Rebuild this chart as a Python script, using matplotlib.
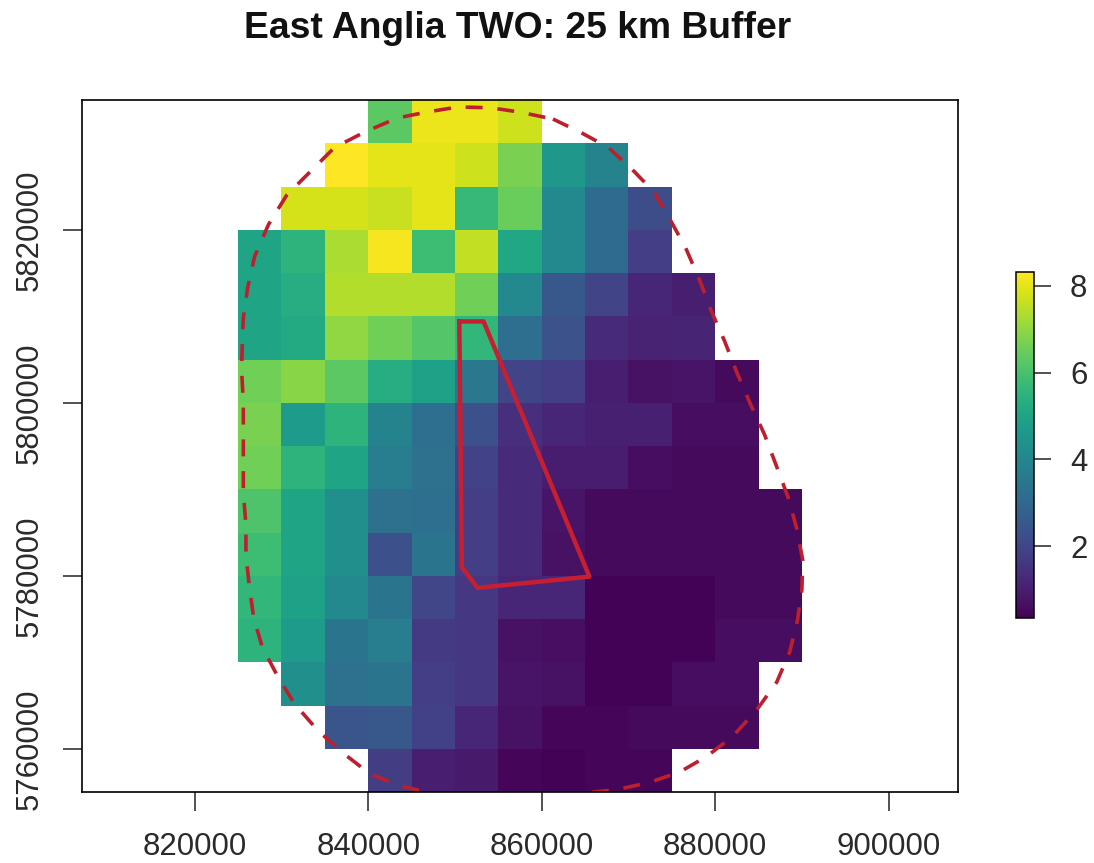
import numpy as np
import matplotlib
matplotlib.use("Agg")
import matplotlib.pyplot as plt

plt.rcParams['font.family'] = ['Liberation Sans', 'DejaVu Sans']

n = np.nan

# raster cell edges (m)
x_edges = np.arange(825000, 895000, 5000)
y_edges = np.arange(5755000, 5840000, 5000)

# values per row, top row first, columns 825000-890000
row_5830 = [n, n, n, 6.3, 8.1, 8.1, 7.7, n, n, n, n, n, n]
row_5825 = [n, n, 8.3, 8.0, 8.0, 7.7, 6.7, 4.6, 3.9, n, n, n, n]
row_5820 = [n, 7.8, 7.8, 7.65, 8.0, 5.7, 6.5, 4.1, 3.1, 2.2, n, n, n]
row_5815 = [5.0, 5.5, 7.3, 8.2, 5.8, 7.6, 5.1, 4.1, 3.1, 1.8, n, n, n]
row_5810 = [5.0, 5.3, 7.4, 7.4, 7.4, 6.6, 4.1, 2.5, 1.95, 1.2, 1.0, n, n]
row_5805 = [5.0, 5.2, 7.0, 6.6, 6.2, 5.6, 3.2, 2.35, 1.3, 1.1, 1.15, n, n]
row_5800 = [6.6, 6.9, 6.3, 5.3, 4.9, 3.5, 1.95, 1.8, 1.0, 0.7, 0.75, 0.55, n]
row_5795 = [6.7, 4.7, 5.5, 3.9, 3.2, 2.3, 1.4, 1.2, 1.05, 1.05, 0.6, 0.6, n]
row_5790 = [6.6, 5.5, 5.0, 3.7, 3.3, 1.9, 1.3, 0.95, 0.95, 0.6, 0.55, 0.55, n]
row_5785 = [6.1, 5.0, 4.3, 3.3, 3.2, 1.8, 1.3, 0.75, 0.55, 0.55, 0.55, 0.55, 0.55]
row_5780 = [5.8, 5.0, 4.3, 2.3, 3.4, 1.8, 1.3, 0.7, 0.55, 0.55, 0.55, 0.55, 0.55]
row_5775 = [5.6, 4.9, 4.1, 3.4, 2.0, 1.6, 1.2, 1.2, 0.4, 0.4, 0.4, 0.55, 0.55]
row_5770 = [5.5, 4.7, 3.4, 3.7, 1.7, 1.6, 0.7, 0.65, 0.4, 0.4, 0.4, 0.6, 0.6]
row_5765 = [n, 4.3, 3.3, 3.4, 1.8, 1.6, 0.75, 0.7, 0.4, 0.4, 0.6, 0.6, n]
row_5760 = [n, n, 2.4, 2.5, 1.85, 1.2, 0.7, 0.45, 0.45, 0.55, 0.55, 0.55, n]
row_5755 = [n, n, n, 1.75, 1.0, 0.9, 0.45, 0.4, 0.45, 0.45, n, n, n]

rows = [row_5830, row_5825, row_5820, row_5815, row_5810, row_5805, row_5800, row_5795,
        row_5790, row_5785, row_5780, row_5775, row_5770, row_5765, row_5760, row_5755]

# 25 km buffer outline (km)
buffer_x = [861.3, 864.6, 867.7, 870.7, 873.0, 874.9, 876.6, 878.2, 879.6, 881.1, 882.5, 884.0, 885.7,
            887.1, 888.4, 889.4, 890.1, 890.0, 889.5, 888.6, 887.1, 884.8, 882.0, 879.0, 875.9, 872.4,
            868.8, 865.2, 859.8, 854.0, 848.2, 843.6, 840.2, 837.1, 834.2, 831.5, 829.6, 827.8, 826.8,
            826.3, 825.9, 825.9, 825.6, 825.6, 825.6, 825.6, 825.4, 825.5, 825.6, 826.1, 826.9, 828.5,
            830.6, 833.5, 836.1, 839.6, 843.3, 846.7, 850.4, 854.1, 857.5, 861.3]
buffer_y = [5832.8, 5831.2, 5829.5, 5826.7, 5824.3, 5821.0, 5817.9, 5814.2, 5810.5, 5807.1, 5803.5, 5800.0, 5796.3,
            5792.6, 5789.1, 5785.5, 5781.8, 5778.4, 5774.9, 5771.2, 5767.7, 5764.5, 5761.4, 5759.1, 5757.3, 5756.1,
            5755.3, 5754.9, 5754.4, 5754.3, 5754.7, 5755.7, 5757.1, 5759.5, 5762.1, 5765.2, 5768.3, 5771.7, 5775.1,
            5778.7, 5782.4, 5785.9, 5789.6, 5793.2, 5796.6, 5800.1, 5803.8, 5807.5, 5809.8, 5813.3, 5816.9, 5820.6,
            5824.0, 5826.9, 5829.5, 5831.3, 5832.9, 5833.6, 5834.2, 5834.1, 5833.6, 5832.8]

# wind farm site outline (km)
site_x = [850.5, 853.3, 865.5, 852.6, 850.8, 850.5]
site_y = [5809.4, 5809.4, 5779.9, 5778.6, 5781.0, 5809.4]

x_ticks = [820000, 840000, 860000, 880000, 900000]
y_ticks = [5760000, 5780000, 5800000, 5820000]
cbar_ticks = [2, 4, 6, 8]
vmin, vmax = 0.34, 8.32

W, H = 1094, 863
text_col = '#2a2a2a'

fig = plt.figure(figsize=(W / 100, H / 100), dpi=100)
ax = fig.add_axes([82 / W, 1 - 792 / H, (958 - 82) / W, (792 - 100) / H])

# rows are listed top first, pcolormesh wants bottom first
grid = np.ma.masked_invalid(np.array(rows)[::-1])
mesh = ax.pcolormesh(x_edges, y_edges, grid, cmap='viridis', vmin=vmin, vmax=vmax)

ax.plot(np.array(buffer_x) * 1000, np.array(buffer_y) * 1000, color='#bd1f2d', lw=2.6,
        linestyle=(0, (4.7, 4.1)))
ax.plot(np.array(site_x) * 1000, np.array(site_y) * 1000, color='#c81e32', lw=3.2)

ax.set_xlim(807000, 908000)
ax.set_ylim(5755000, 5835000)
ax.set_xticks(x_ticks)
ax.set_yticks(y_ticks)
ax.set_xticklabels([str(v) for v in x_ticks], fontsize=22.4, color=text_col)
ax.set_yticklabels([str(v) for v in y_ticks], fontsize=22.4, color=text_col, rotation=90, va='center')
ax.tick_params(axis='both', length=13.5, width=1.1, color='#222222')
ax.tick_params(axis='x', pad=15.5)
ax.tick_params(axis='y', pad=13.5)
for s in ax.spines.values():
    s.set_linewidth(1.2)

fig.text(518 / W, 1 - 28 / H, 'East Anglia TWO: 25 km Buffer', fontsize=26.8, fontweight='bold',
         ha='center', va='center', color='#111111')

# colour bar
cax = fig.add_axes([1016 / W, 1 - 618 / H, 18 / W, (618 - 272) / H])
cb = fig.colorbar(mesh, cax=cax)
cb.set_ticks(cbar_ticks)
cb.ax.tick_params(labelsize=22.4, length=12, width=1.1, pad=14, labelcolor=text_col, color='#222222')
cb.outline.set_linewidth(1.1)

fig.savefig('out.png', dpi=100)
